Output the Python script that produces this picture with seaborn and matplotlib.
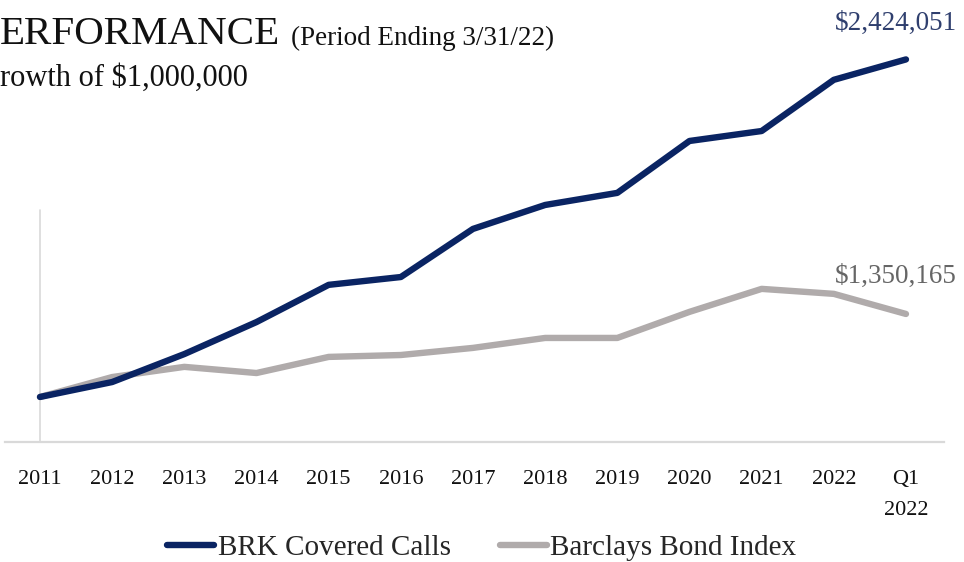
import pandas as pd
import matplotlib.pyplot as plt
from matplotlib.lines import Line2D
import seaborn as sns

sns.set_theme(style="white")
plt.rcParams["font.family"] = ["Liberation Serif", "DejaVu Serif"]

# ── data (growth of $1,000,000, in $ millions) ───────────────────────────────
periods = ["2011", "2012", "2013", "2014", "2015", "2016", "2017",
           "2018", "2019", "2020", "2021", "2022", "Q1\n2022"]
brk_covered_calls = [1.000, 1.063, 1.181, 1.316, 1.473, 1.506, 1.709,
                     1.810, 1.861, 2.080, 2.122, 2.338, 2.424051]
barclays_bond = [1.000, 1.084, 1.127, 1.101, 1.169, 1.177, 1.207,
                 1.249, 1.249, 1.359, 1.456, 1.435, 1.350165]
series_names = ["BRK Covered Calls", "Barclays Bond Index"]
final_labels = ["$2,424,051", "$1,350,165"]

navy = "#0A2463"
gray = "#B0ABAB"

df = pd.DataFrame({
    "pos": list(range(len(periods))) * 2,
    "value": brk_covered_calls + barclays_bond,
    "series": [series_names[0]] * len(periods) + [series_names[1]] * len(periods),
})

fig = plt.figure(figsize=(9.64, 5.62), dpi=100)
ax = fig.add_axes([5 / 964, 120 / 562, 939 / 964, 402 / 562])

sns.lineplot(data=df, x="pos", y="value", hue="series",
             palette={series_names[0]: navy, series_names[1]: gray},
             hue_order=[series_names[1], series_names[0]],
             linewidth=4.6, ax=ax, legend=False)
for ln in ax.get_lines():
    ln.set_solid_capstyle("round")
    ln.set_solid_joinstyle("round")

ax.set_xlim(-0.485, 12.527)
ax.set_ylim(0.810, 2.506)
ax.set_xlabel("")
ax.set_ylabel("")
ax.set_yticks([])
ax.set_xticks(range(len(periods)))
ax.set_xticklabels(periods, fontsize=16, color="#111111")
ax.tick_params(axis="x", length=0, pad=20)
for lab in ax.get_xticklabels():
    lab.set_linespacing(1.85)

for side in ["top", "right", "left"]:
    ax.spines[side].set_visible(False)
ax.spines["bottom"].set_color("#D9D9D9")
ax.spines["bottom"].set_linewidth(1.6)
ax.axvline(0, ymin=0, ymax=0.577, color="#D9D9D9", linewidth=1.2, zorder=0)

# end-of-series value labels
ax.annotate(final_labels[0], (12, brk_covered_calls[-1]), xytext=(-71, 36),
            textcoords="offset pixels", fontsize=19.5, color="#2F3F6E", va="center")
ax.annotate(final_labels[1], (12, barclays_bond[-1]), xytext=(-71, 38),
            textcoords="offset pixels", fontsize=19.5, color="#666666", va="center")

# headings
fig.text(0.0, 1 - 35 / 562, "ERFORMANCE", fontsize=29.5, color="#111111", va="center")
fig.text(291 / 964, 1 - 38 / 562, "(Period Ending 3/31/22)", fontsize=19.5,
         color="#111111", va="center")
fig.text(0.0, 1 - 78 / 562, "rowth of $1,000,000", fontsize=22, color="#111111",
         va="center")

handles = [Line2D([], [], color=navy, linewidth=4.6, solid_capstyle="round"),
           Line2D([], [], color=gray, linewidth=4.6, solid_capstyle="round")]
fig.legend(handles, series_names, loc="center", bbox_to_anchor=(0.5, 1 - 548 / 562),
           ncol=2, frameon=False, fontsize=21, handlelength=1.6, handletextpad=0.12,
           columnspacing=1.7)

fig.savefig("out.png", dpi=100)
